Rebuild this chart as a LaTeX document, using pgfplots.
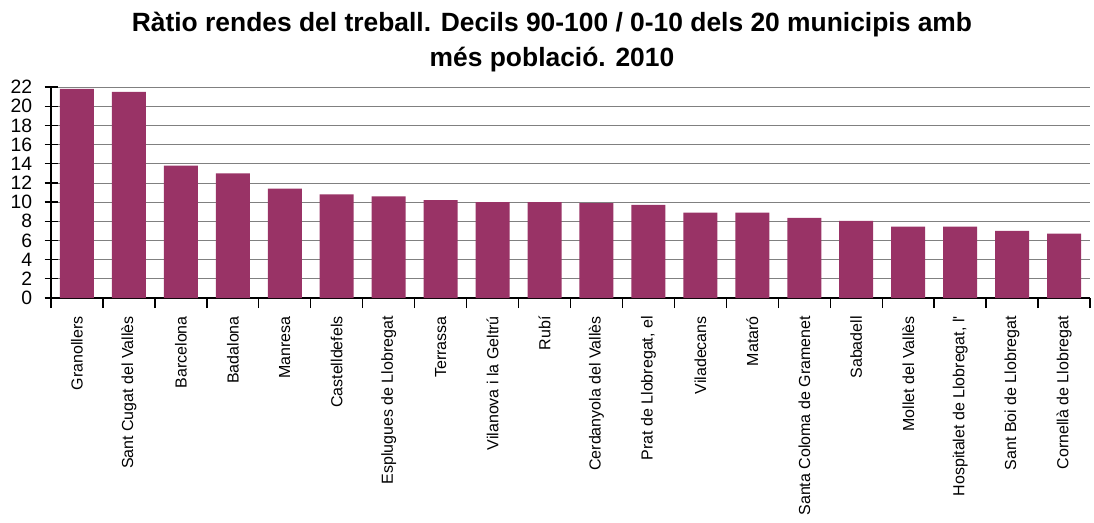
\documentclass[border=0pt]{standalone}
\usepackage{fontspec}
\setmainfont{Liberation Sans}
\newfontfamily\nolig{Liberation Sans}
\usepackage{pgfplots}
\pgfplotsset{compat=1.18}
\definecolor{plum}{HTML}{993366}

\pgfplotstableread{
idx ratio
0  21.8
1  21.5
2  13.8
3  13.0
4  11.4
5  10.8
6  10.6
7  10.2
8  10.0
9  10.0
10 9.9
11 9.7
12 8.9
13 8.9
14 8.35
15 8.05
16 7.45
17 7.45
18 7.0
19 6.7
}\ratios

\begin{document}
\begin{tikzpicture}
\useasboundingbox (0,0) rectangle (820.5pt,391.5pt);
% title, two lines
\node[anchor=base, font=\fontsize{19.8}{22}\selectfont\bfseries] at (414pt,367.5pt)
  {Ràtio rendes del treball. Decils 90-100 / 0-10 dels 20 municipis amb};
\node[anchor=base, font=\fontsize{19.8}{22}\selectfont\bfseries] at (414pt,341.5pt)
  {més població. 2010};
\begin{axis}[
    at={(38.25pt,168pt)}, anchor=south west,
    scale only axis,
    width=779.25pt, height=158.25pt,
    xmin=-0.5, xmax=19.5,
    ymin=0, ymax=22,
    ytick={0,2,...,22},
    xtick={0,...,19},
    xticklabels={Granollers, Sant Cugat del Vallès, Barcelona, Badalona, Manresa,
      Castelldefels, Esplugues de Llobregat, Terrassa, Vilanova i la Geltrú, Rubí,
      Cerdanyola del Vallès, {Prat de Llobregat, el}, Viladecans, Mataró,
      Santa Coloma de Gramenet, Sabadell, Mollet del Vallès,
      {Hospitalet de Llobregat, l{\nolig '}}, Sant Boi de Llobregat, Cornellà de Llobregat},
    minor xtick={-0.5,0.5,...,19.5},
    axis x line=bottom, axis y line=left,
    axis line style={black, line width=1pt, -},
    tick align=center,
    major tick length=9.75pt,
    minor tick length=7.5pt,
    major x tick style={draw=none},
    tick style={black, line width=1pt},
    ymajorgrids,
    major grid style={black!50, line width=0.6pt},
    /pgf/number format/assume math mode=true,
    yticklabel style={font=\fontsize{14.5}{16}\selectfont, anchor=east, inner sep=0pt},
    yticklabel shift=9pt,
    xticklabel style={font=\fontsize{12}{14}\selectfont, rotate=90, anchor=east, inner sep=0pt},
    xticklabel shift=3.75pt,
    ybar, bar width=25.5pt,
    clip=false,
]
\addplot[draw=none, fill=plum] table[x=idx, y=ratio] {\ratios};
\end{axis}
\end{tikzpicture}
\end{document}
